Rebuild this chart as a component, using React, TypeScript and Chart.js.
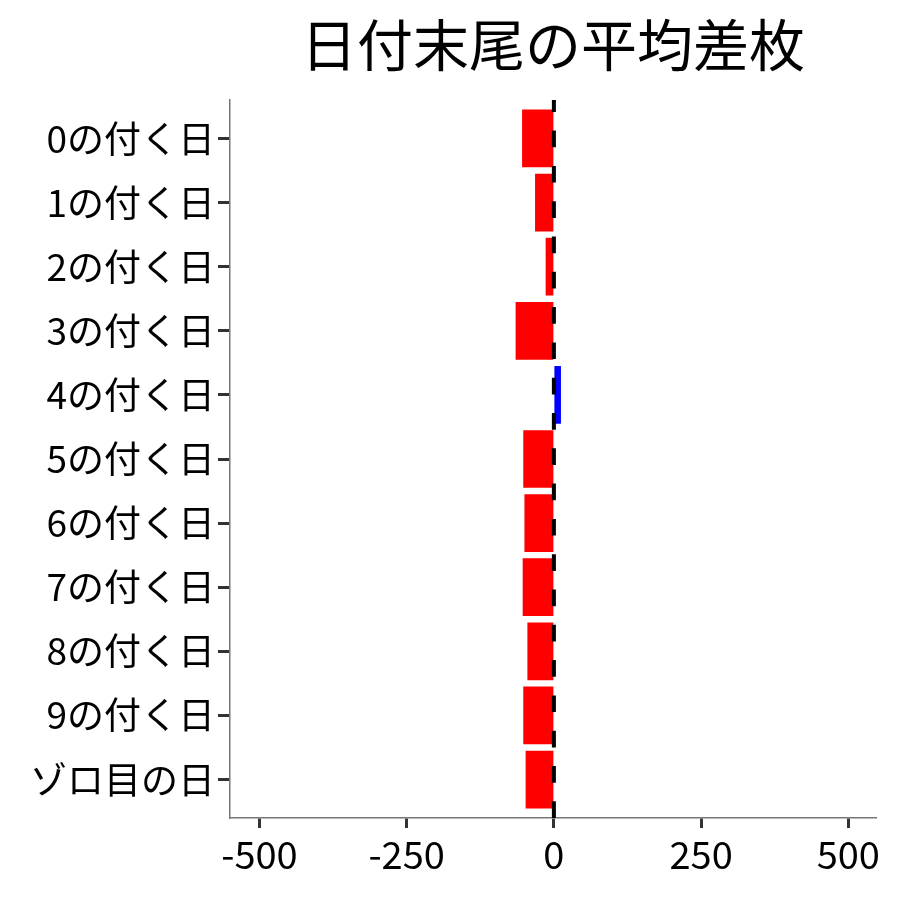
import React, { useEffect, useRef } from 'react';
import Chart from 'chart.js/auto';

const TITLE = '日付末尾の平均差枚';
const categories = ['0の付く日', '1の付く日', '2の付く日', '3の付く日', '4の付く日', '5の付く日', '6の付く日', '7の付く日', '8の付く日', '9の付く日', 'ゾロ目の日'];
const values = [-54, -32, -14, -65, 12, -52, -50, -53, -45, -52, -48];
const xTicks = [-500, -250, 0, 250, 500];

const FONT = "'Noto Sans CJK JP', 'Noto Sans', sans-serif";

export default function App() {
    const chartRef = useRef<HTMLCanvasElement>(null);
    const chartInstance = useRef<Chart | null>(null);

    useEffect(() => {
        if (!chartRef.current) return;
        if (chartInstance.current) chartInstance.current.destroy();
        const ctx = chartRef.current.getContext('2d');
        if (!ctx) return;

        // dashed zero line drawn over the bars
        const zeroLine = {
            id: 'zeroLine',
            afterDatasetsDraw(chart: any) {
                const { ctx, chartArea, scales } = chart;
                const x = scales.x.getPixelForValue(0);
                ctx.save();
                ctx.beginPath();
                ctx.rect(chartArea.left, chartArea.top, chartArea.right - chartArea.left, chartArea.bottom - chartArea.top);
                ctx.clip();
                ctx.strokeStyle = '#000';
                ctx.lineWidth = 4;
                ctx.setLineDash([16.7, 18.6]);
                ctx.beginPath();
                ctx.moveTo(x, chartArea.bottom);
                ctx.lineTo(x, chartArea.top);
                ctx.stroke();
                ctx.restore();
            },
        };

        // title centred over the plot panel, like ggplot does
        const panelTitle = {
            id: 'panelTitle',
            afterDraw(chart: any) {
                const { ctx, chartArea } = chart;
                ctx.save();
                ctx.font = `56px ${FONT}`;
                ctx.fillStyle = '#000';
                ctx.textAlign = 'center';
                ctx.textBaseline = 'middle';
                ctx.fillText(TITLE, (chartArea.left + chartArea.right) / 2, 45);
                ctx.restore();
            },
        };

        chartInstance.current = new Chart(ctx, {
            type: 'bar',
            data: {
                datasets: [{
                    data: values.map((v, i) => ({ x: v, y: i })),
                    backgroundColor: values.map(v => (v >= 0 ? '#0000FF' : '#FF0000')),
                    barPercentage: 0.9,
                    categoryPercentage: 1,
                }],
            },
            options: {
                indexAxis: 'y',
                animation: false,
                responsive: true,
                maintainAspectRatio: false,
                layout: { padding: { top: 100, right: 24, left: 0, bottom: 0 } },
                plugins: {
                    legend: { display: false },
                    tooltip: { enabled: false },
                    title: { display: false },
                },
                scales: {
                    x: {
                        type: 'linear',
                        min: -550,
                        max: 547,
                        afterBuildTicks: (scale: any) => {
                            scale.ticks = xTicks.map(v => ({ value: v }));
                        },
                        afterFit: (scale: any) => {
                            scale.height = 82;
                        },
                        grid: {
                            drawOnChartArea: false,
                            drawTicks: true,
                            tickLength: 10,
                            tickWidth: 3,
                            tickColor: '#333',
                        },
                        border: { display: true, color: '#777', width: 1.5 },
                        ticks: {
                            font: { family: FONT, size: 38 },
                            color: '#000',
                            padding: 4,
                            maxRotation: 0,
                        },
                    },
                    y: {
                        type: 'linear',
                        reverse: true,
                        offset: false,
                        min: -0.6,
                        max: categories.length - 1 + 0.6,
                        afterBuildTicks: (scale: any) => {
                            scale.ticks = categories.map((_, i) => ({ value: i }));
                        },
                        afterFit: (scale: any) => {
                            scale.width = 230;
                        },
                        grid: {
                            offset: false,
                            drawOnChartArea: false,
                            drawTicks: true,
                            tickLength: 12,
                            tickWidth: 3,
                            tickColor: '#333',
                        },
                        border: { display: true, color: '#777', width: 1.5 },
                        ticks: {
                            font: { family: FONT, size: 37 },
                            color: '#000',
                            padding: 3,
                            autoSkip: false,
                            callback: (v: any) => categories[v] ?? '',
                        },
                    },
                },
            } as any,
            plugins: [zeroLine, panelTitle],
        });

        return () => {
            if (chartInstance.current) {
                chartInstance.current.destroy();
                chartInstance.current = null;
            }
        };
    }, []);

    return (
        <div style={{ position: 'fixed', left: 0, top: 0, width: 900, height: 900, background: '#fff' }}>
            <canvas ref={chartRef}></canvas>
        </div>
    );
}
